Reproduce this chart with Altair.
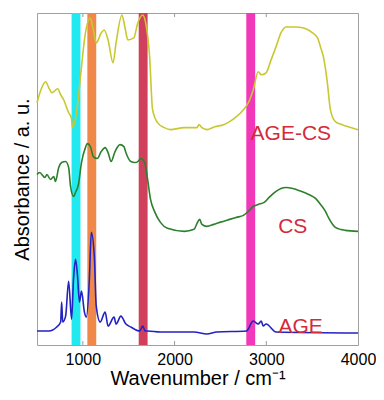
import altair as alt
import pandas as pd

# AGE-CS (top trace)
agecs_wn = [500, 543, 594, 629, 662, 726, 758, 791, 845, 874, 888, 917, 952, 985, 1028, 1082, 1114,
            1146, 1200, 1232, 1275, 1329, 1362, 1426, 1458, 1491, 1555, 1599, 1652, 1685, 1728, 1760,
            1814, 1889, 1954, 2105, 2245, 2266, 2298, 2352, 2439, 2535, 2600, 2675, 2751, 2805, 2858,
            2912, 2945, 2998, 3052, 3106, 3160, 3214, 3322, 3408, 3505, 3559, 3591, 3623, 3666, 3699,
            3753, 3828, 3893, 4000]
agecs_ab = [243, 256, 264, 258, 253, 257, 251, 246, 233, 228, 218, 226, 249, 279, 313, 328, 316,
            303, 313, 316, 306, 283, 303, 331, 319, 306, 308, 323, 331, 323, 289, 236,
            223, 218, 216, 218, 218, 221, 218, 216, 219, 221, 224, 229, 236, 243, 256,
            274, 271, 273, 286, 299, 313, 319, 319, 318, 313, 308, 299, 289, 263, 236,
            224, 221, 219, 216]

# CS (middle trace)
cs_wn = [500, 529, 586, 608, 647, 683, 701, 737, 769, 812, 845, 866, 898, 920, 952, 985, 1028, 1049,
         1082, 1114, 1157, 1200, 1243, 1275, 1308, 1351, 1405, 1448, 1469, 1523, 1566, 1599, 1631,
         1674, 1706, 1738, 1781, 1846, 1922, 2105, 2212, 2245, 2274, 2298, 2352, 2428, 2492, 2600,
         2675, 2751, 2805, 2858, 2912, 2977, 3031, 3106, 3160, 3214, 3289, 3354, 3462, 3537, 3591,
         3645, 3677, 3753, 3860, 4000]
cs_ab = [171, 173, 168, 171, 166, 169, 164, 178, 183, 184, 178, 159, 149, 153, 161, 183, 198, 202,
         199, 189, 187, 194, 198, 193, 184, 194, 201, 199, 193, 184, 183, 184, 187,
         183, 166, 146, 134, 123, 117, 114, 116, 122, 126, 121, 119, 121, 123, 126,
         128, 130, 134, 139, 141, 143, 148, 154, 157, 158, 157, 155, 151, 147, 141,
         134, 128, 118, 115, 114]

# AGE (bottom trace)
age_wn = [500, 629, 715, 758, 769, 780, 812, 845, 877, 898, 920, 942, 963, 985, 1017, 1038, 1071,
          1092, 1125, 1146, 1189, 1243, 1275, 1340, 1362, 1415, 1469, 1523, 1620, 1652, 1680, 1706,
          1846, 2212, 2352, 2460, 2783, 2858, 2912, 2945, 2966, 2998, 3106, 4000]
age_ab = [14, 14, 18, 23, 43, 23, 29, 64, 26, 66, 86, 69, 43, 54, 33, 28, 66,
          113, 89, 39, 23, 33, 19, 28, 21, 29, 21, 18, 14, 19, 14, 14,
          13, 13, 11, 13, 14, 24, 21, 24, 19, 21, 13, 12]

# highlighted bands
band_lo = [877, 1049, 1609, 2782]
band_hi = [974, 1146, 1706, 2879]
band_colors = ["#22E8F0", "#F0884A", "#D0405C", "#F038B8"]

# labels
label_text = ["AGE-CS", "CS", "AGE"]
label_wn = [3268, 3289, 3375]
label_ab = [206, 112, 12]

tick_values = [1000, 2000, 3000]

series_names = ["AGE-CS", "CS", "AGE"]
series_colors = ["#C8C832", "#2C802C", "#2222C0"]

rows = []
for name, wn, ab in [("AGE-CS", agecs_wn, agecs_ab), ("CS", cs_wn, cs_ab), ("AGE", age_wn, age_ab)]:
    for i, (w, a) in enumerate(zip(wn, ab)):
        rows.append({"series": name, "wn": w, "ab": a, "order": i})
lines_df = pd.DataFrame(rows)

bands_df = pd.DataFrame({"lo": band_lo, "hi": band_hi, "band": ["b1", "b2", "b3", "b4"]})
labels_df = pd.DataFrame({"label": label_text, "wn": label_wn, "ab": label_ab})
ticks_df = pd.DataFrame({"wn": tick_values})

FONT = "Liberation Sans"
PLOT_H = 332
xscale = alt.Scale(domain=[500, 4000], nice=False, zero=False)
yscale = alt.Scale(domain=[0, 333], nice=False, zero=True)

bands = alt.Chart(bands_df).mark_rect().encode(
    x=alt.X("lo:Q", scale=xscale,
            axis=alt.Axis(values=[1000, 2000, 3000, 4000], format="d", ticks=False, domain=False,
                          grid=False, labelFontSize=16, labelPadding=6, labelColor="#000",
                          labelFont=FONT, titleFont=FONT, titleFontSize=20, titleFontWeight="normal",
                          titlePadding=1, titleColor="#000", labelFlush=False),
            title="Wavenumber / cm⁻¹"),
    x2="hi:Q",
    y=alt.value(0),
    y2=alt.value(PLOT_H),
    color=alt.Color("band:N", scale=alt.Scale(domain=["b1", "b2", "b3", "b4"], range=band_colors),
                    legend=None),
)

lines = alt.Chart(lines_df).mark_line(strokeWidth=1.6, interpolate="monotone").encode(
    x=alt.X("wn:Q", scale=xscale),
    y=alt.Y("ab:Q", scale=yscale,
            axis=alt.Axis(labels=False, ticks=False, domain=False, grid=False,
                          titleFont=FONT, titleFontSize=20, titleFontWeight="normal",
                          titlePadding=5, titleColor="#000"),
            title="Absorbance / a. u."),
    detail="series:N",
    order="order:Q",
    stroke=alt.Stroke("series:N", scale=alt.Scale(domain=series_names, range=series_colors),
                      legend=None),
)

labels = alt.Chart(labels_df).mark_text(font=FONT, fontSize=21, color="#D42A3A",
                                        align="center", baseline="alphabetic").encode(
    x=alt.X("wn:Q", scale=xscale),
    y=alt.Y("ab:Q", scale=yscale),
    text="label:N",
)

ticks_bottom = alt.Chart(ticks_df).mark_rule(color="#999", strokeWidth=1).encode(
    x=alt.X("wn:Q", scale=xscale), y=alt.value(PLOT_H), y2=alt.value(PLOT_H - 4))
ticks_top = alt.Chart(ticks_df).mark_rule(color="#999", strokeWidth=1).encode(
    x=alt.X("wn:Q", scale=xscale), y=alt.value(0), y2=alt.value(4))

chart = alt.layer(bands, lines, labels, ticks_bottom, ticks_top).resolve_scale(
    color="independent"
).properties(
    width=321, height=PLOT_H,
    autosize=alt.AutoSizeParams(type="none"),
    padding={"left": 29, "top": 5, "right": 18, "bottom": 47},
).configure_view(stroke="#A0A0A0", strokeWidth=1)

chart.save("out.html", embed_options={"renderer": "svg", "actions": False})
